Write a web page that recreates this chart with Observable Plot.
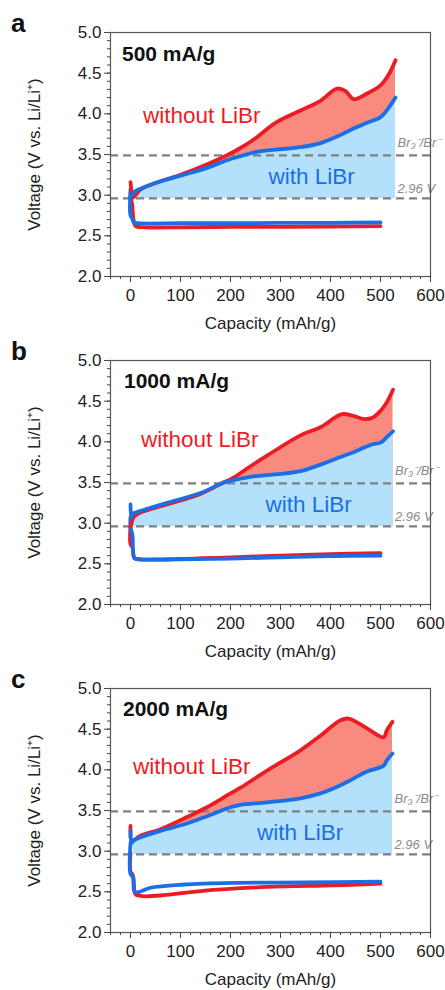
<!DOCTYPE html>
<html><head><meta charset="utf-8">
<script src="https://cdn.jsdelivr.net/npm/d3@7"></script>
<script src="https://cdn.jsdelivr.net/npm/@observablehq/plot@0.6"></script>
<style>
body{margin:0;background:#fff;font-family:"Liberation Sans",Arial,sans-serif;}
#wrap{position:relative;width:445px;height:990px;overflow:hidden;background:#fff;}
.panel{position:absolute;left:0;width:445px;}
.letter{position:absolute;left:11px;font-weight:bold;font-size:26px;line-height:1;color:#111;font-family:"Liberation Sans",Arial,sans-serif;}
</style></head><body><div id="wrap"></div>
<script>
// ---- labels / ticks ----
const panelLetters = ["a", "b", "c"];
const rateLabels = ["500 mA/g", "1000 mA/g", "2000 mA/g"];
const xMajorTicks = [0, 100, 200, 300, 400, 500, 600];
const yMajorTicks = [2.0, 2.5, 3.0, 3.5, 4.0, 4.5, 5.0];
const refLevels = [2.96, 3.49];
const refLabels = ["2.96 V", "Br\u2083\u207B/Br\u207B"];
const seriesNames = ["without LiBr", "with LiBr"];

// ---- panel a (500 mA/g) ----
const chargeCapA  = [0, 2, 5, 10, 20, 50, 100, 150, 193, 220, 250, 290, 340, 380, 413, 430, 446, 473, 500, 517, 530];
const chargeRedA  = [3.16, 3.05, 2.97, 3.00, 3.07, 3.15, 3.25, 3.37, 3.49, 3.58, 3.70, 3.89, 4.04, 4.16, 4.31, 4.28, 4.18, 4.25, 4.35, 4.49, 4.66];
const chargeBlueA = [2.98, 3.00, 3.02, 3.05, 3.08, 3.15, 3.24, 3.33, 3.43, 3.48, 3.53, 3.56, 3.59, 3.64, 3.72, 3.77, 3.82, 3.89, 3.96, 4.08, 4.20];
const dischCapRedA  = [0, 3, 6, 10, 30, 100, 200, 300, 400, 500];
const dischRedA     = [2.97, 2.90, 2.70, 2.62, 2.605, 2.605, 2.61, 2.61, 2.615, 2.62];
const dischCapBlueA = [0, 0, 3, 6, 15, 100, 200, 300, 400, 500];
const dischBlueA    = [3.07, 2.75, 2.72, 2.67, 2.655, 2.655, 2.655, 2.66, 2.66, 2.665];

// ---- panel b (1000 mA/g) ----
const chargeCapB  = [0, 2, 6, 20, 73, 140, 183, 206, 240, 273, 340, 380, 423, 445, 467, 485, 500, 513, 525];
const chargeRedB  = [2.96, 3.00, 3.07, 3.13, 3.23, 3.36, 3.49, 3.56, 3.70, 3.83, 4.08, 4.18, 4.34, 4.32, 4.28, 4.30, 4.38, 4.49, 4.64];
const chargeBlueB = [3.23, 3.07, 3.12, 3.15, 3.25, 3.37, 3.49, 3.53, 3.57, 3.59, 3.64, 3.72, 3.82, 3.87, 3.93, 3.97, 3.99, 4.06, 4.13];
const dischCapRedB  = [0, 0, 4, 8, 20, 100, 200, 300, 400, 500];
const dischRedB     = [2.96, 2.74, 2.70, 2.57, 2.555, 2.56, 2.58, 2.60, 2.62, 2.63];
const dischCapBlueB = [0, 0, 4, 8, 20, 100, 200, 300, 400, 500];
const dischBlueB    = [3.07, 2.95, 2.85, 2.57, 2.555, 2.555, 2.565, 2.58, 2.595, 2.60];

// ---- panel c (2000 mA/g) ----
const chargeCapC  = [0, 2, 6, 20, 60, 113, 153, 200, 220, 273, 340, 380, 420, 436, 473, 506, 513, 524];
const chargeRedC  = [3.31, 3.12, 3.13, 3.19, 3.27, 3.42, 3.54, 3.71, 3.78, 3.99, 4.24, 4.42, 4.61, 4.63, 4.51, 4.40, 4.49, 4.59];
const chargeBlueC = [3.25, 3.10, 3.13, 3.17, 3.25, 3.34, 3.43, 3.54, 3.57, 3.60, 3.65, 3.71, 3.81, 3.86, 3.98, 4.05, 4.12, 4.20];
const dischCapRedC  = [0, 0, 5, 10, 20, 30, 60, 140, 273, 407, 500];
const dischRedC     = [2.98, 2.75, 2.70, 2.47, 2.45, 2.445, 2.455, 2.51, 2.56, 2.58, 2.60];
const dischCapBlueC = [0, 0, 5, 8, 15, 40, 107, 206, 350, 500];
const dischBlueC    = [3.10, 2.72, 2.68, 2.50, 2.495, 2.55, 2.59, 2.61, 2.615, 2.625];

const panels = [
  {cap: chargeCapA, red: chargeRedA, blue: chargeBlueA, dcr: dischCapRedA, dr: dischRedA, dcb: dischCapBlueA, db: dischBlueA},
  {cap: chargeCapB, red: chargeRedB, blue: chargeBlueB, dcr: dischCapRedB, dr: dischRedB, dcb: dischCapBlueB, db: dischBlueB},
  {cap: chargeCapC, red: chargeRedC, blue: chargeBlueC, dcr: dischCapRedC, dr: dischRedC, dcb: dischCapBlueC, db: dischBlueC}
];

// annotation anchors (data coords) per panel
const rateAnchor   = [[-17, 4.73], [-13, 4.75], [-15, 4.74]];
const withoutAnchor = [[25, 3.97], [21, 4.03], [5, 4.04]];
const withAnchor    = [[276, 3.23], [270, 3.22], [253, 3.23]];

const RED = "#ec1c24", BLUE = "#1b6ee6", RED_FILL = "#f88a80", BLUE_FILL = "#b3e1fb", DASH = "#808080";
const CURVE = "catmull-rom";

const wrap = document.getElementById("wrap");
const tops = [0, 328, 656];

panels.forEach((p, i) => {
  const charge = p.cap.map((c, k) => ({cap: c, red: p.red[k], blue: p.blue[k]}));
  const fillRows = charge.filter(d => d.cap >= 4);
  const dRed = p.dcr.map((c, k) => ({cap: c, v: p.dr[k]}));
  const dBlue = p.dcb.map((c, k) => ({cap: c, v: p.db[k]}));
  const endCap = p.cap[p.cap.length - 1];

  const chart = Plot.plot({
    width: 445,
    height: 334,
    marginLeft: 110,
    marginRight: 15,
    marginTop: 32,
    marginBottom: 58,
    style: {background: "transparent", overflow: "visible", fontSize: "17px", fontFamily: "'Liberation Sans', Arial, sans-serif", color: "#222"},
    x: {domain: [-40, 600]},
    y: {domain: [2, 5]},
    marks: [
      Plot.areaY(fillRows, {x: "cap", y1: 2.96, y2: "red", fill: RED_FILL, curve: CURVE}),
      Plot.areaY(fillRows, {x: "cap", y1: 2.96, y2: "blue", fill: BLUE_FILL, curve: CURVE}),
      Plot.ruleY(refLevels, {stroke: DASH, strokeWidth: 2.2, strokeDasharray: "8,5"}),
      Plot.text([refLabels[0]], {x: endCap + 4, y: refLevels[0], text: d => d, textAnchor: "start", dy: -10, fontSize: 13, fontStyle: "italic", fill: "#8a8a8a"}),
      Plot.text([refLabels[1]], {x: endCap + 4, y: refLevels[1], text: d => d, textAnchor: "start", dy: -12, fontSize: 13, fontStyle: "italic", fill: "#8a8a8a"}),
      Plot.line(dRed, {x: "cap", y: "v", stroke: RED, strokeWidth: 3.8, curve: CURVE}),
      Plot.line(dBlue, {x: "cap", y: "v", stroke: BLUE, strokeWidth: 3.8, curve: CURVE}),
      Plot.line(charge, {x: "cap", y: "red", stroke: RED, strokeWidth: 3.8, curve: CURVE}),
      Plot.line(charge, {x: "cap", y: "blue", stroke: BLUE, strokeWidth: 3.8, curve: CURVE}),
      Plot.frame({stroke: "#555", strokeWidth: 1.2}),
      Plot.axisX(d3.range(-40, 601, 20), {tickSize: 3, tickFormat: () => "", label: null, stroke: "#444"}),
      Plot.axisX(xMajorTicks, {tickSize: 6, tickPadding: 6, stroke: "#444", fill: "#222", label: "Capacity (mAh/g)", labelAnchor: "center", labelArrow: "none", labelOffset: 52}),
      Plot.axisY(d3.range(2, 5.001, 0.1), {tickSize: 3, tickFormat: () => "", label: null, stroke: "#444"}),
      Plot.axisY(yMajorTicks, {tickSize: 6, tickPadding: 3, stroke: "#444", fill: "#222", tickFormat: d3.format(".1f"), label: "Voltage (V vs. Li/Li\u207A)", labelAnchor: "center", labelArrow: "none", labelOffset: 83}),
      Plot.text([rateLabels[i]], {x: rateAnchor[i][0], y: rateAnchor[i][1], text: d => d, textAnchor: "start", fontSize: 21, fontWeight: "bold", fill: "#111"}),
      Plot.text([seriesNames[0]], {x: withoutAnchor[i][0], y: withoutAnchor[i][1], text: d => d, textAnchor: "start", fontSize: 22.5, fill: RED}),
      Plot.text([seriesNames[1]], {x: withAnchor[i][0], y: withAnchor[i][1], text: d => d, textAnchor: "start", fontSize: 22.5, fill: BLUE})
    ]
  });
  const div = document.createElement("div");
  div.className = "panel";
  div.style.top = tops[i] + "px";
  div.appendChild(chart);
  wrap.appendChild(div);
  const L = document.createElement("div");
  L.className = "letter";
  L.style.top = (tops[i] + 10) + "px";
  L.textContent = panelLetters[i];
  wrap.appendChild(L);
});
</script>
</body></html>
